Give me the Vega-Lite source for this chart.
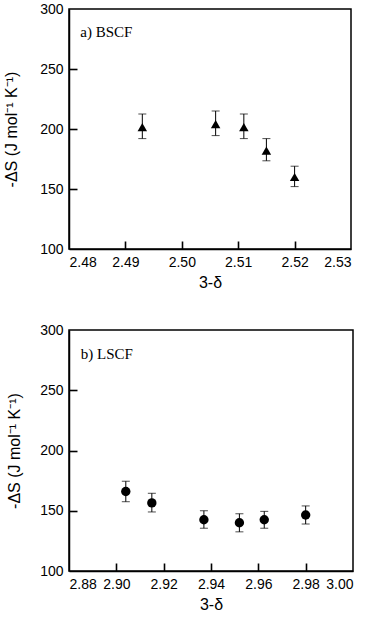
{
  "$schema": "https://vega.github.io/schema/vega-lite/v6.json",
  "padding": {"left": 2, "top": 1, "right": 5, "bottom": 5},
  "spacing": 31,
  "datasets": {
    "bscf": [
      {"x": 2.493, "y": 201.5, "lo": 192, "hi": 212.5},
      {"x": 2.506, "y": 204, "lo": 194.5, "hi": 215},
      {"x": 2.511, "y": 201.5, "lo": 192, "hi": 212.5},
      {"x": 2.515, "y": 182, "lo": 173.5, "hi": 192},
      {"x": 2.52, "y": 160, "lo": 152, "hi": 169}
    ],
    "lscf": [
      {"x": 2.904, "y": 166, "lo": 157.5, "hi": 174.5},
      {"x": 2.915, "y": 156.5, "lo": 149, "hi": 164.5},
      {"x": 2.937, "y": 142.5, "lo": 135.5, "hi": 150},
      {"x": 2.952, "y": 140, "lo": 132.5, "hi": 147.5},
      {"x": 2.9625, "y": 142.5, "lo": 135.5, "hi": 149.5},
      {"x": 2.98, "y": 146.5, "lo": 139, "hi": 154}
    ],
    "labA": [{"x": 2.482, "y": 281, "t": "a) BSCF"}],
    "labB": [{"x": 2.885, "y": 280, "t": "b) LSCF"}]
  },
  "config": {
    "view": {"stroke": "black", "strokeWidth": 1.5},
    "axis": {
      "grid": false,
      "domainColor": "black",
      "domainWidth": 1.5,
      "tickColor": "black",
      "tickWidth": 1.6,
      "labelColor": "black",
      "titleColor": "black",
      "labelFont": "Liberation Sans",
      "titleFont": "Liberation Sans",
      "labelFontSize": 14,
      "titleFontSize": 16,
      "titleFontWeight": "normal"
    },
    "axisX": {"labelPadding": 6, "titlePadding": 5},
    "axisY": {"labelPadding": 6, "titlePadding": 20}
  },
  "vconcat": [
    {
      "width": 282,
      "height": 240,
      "resolve": {"axis": {"x": "independent", "y": "independent"}},
      "layer": [
        {
          "data": {"name": "bscf"},
          "mark": {"type": "errorbar", "ticks": {"size": 8, "color": "black", "strokeWidth": 1.8}, "color": "black", "strokeWidth": 1.8},
          "encoding": {
            "x": {"field": "x", "type": "quantitative", "scale": {"domain": [2.48, 2.53], "nice": false, "zero": false},
                  "axis": {"orient": "bottom", "ticks": false, "values": [2.48, 2.49, 2.5, 2.51, 2.52, 2.53], "format": ".2f", "title": "3-δ"}},
            "y": {"field": "lo", "type": "quantitative", "scale": {"domain": [100, 300], "nice": false, "zero": false},
                  "axis": {"orient": "left", "ticks": false, "values": [100, 150, 200, 250, 300], "title": "-ΔS (J mol⁻¹ K⁻¹)"}},
            "y2": {"field": "hi"}
          }
        },
        {
          "data": {"name": "bscf"},
          "mark": {"type": "point", "shape": "triangle-up", "filled": true, "color": "black", "opacity": 1, "size": 90},
          "encoding": {
            "x": {"field": "x", "type": "quantitative",
                  "axis": {"orient": "top", "offset": -240, "labels": false, "domain": false, "title": null, "ticks": true, "tickSize": 8, "zindex": 2, "values": [2.49, 2.5, 2.51, 2.52]}},
            "y": {"field": "y", "type": "quantitative",
                  "axis": {"orient": "right", "offset": -282, "labels": false, "domain": false, "title": null, "ticks": true, "tickSize": 8, "zindex": 2, "values": [150, 200, 250]}}
          }
        },
        {
          "data": {"name": "labA"},
          "mark": {"type": "text", "align": "left", "baseline": "middle", "font": "Liberation Serif", "fontSize": 15, "color": "black"},
          "encoding": {
            "x": {"field": "x", "type": "quantitative", "axis": null},
            "y": {"field": "y", "type": "quantitative", "axis": null},
            "text": {"field": "t"}
          }
        }
      ]
    },
    {
      "width": 284,
      "height": 241,
      "resolve": {"axis": {"x": "independent", "y": "independent"}},
      "layer": [
        {
          "data": {"name": "lscf"},
          "mark": {"type": "errorbar", "ticks": {"size": 8, "color": "black", "strokeWidth": 1.8}, "color": "black", "strokeWidth": 1.8},
          "encoding": {
            "x": {"field": "x", "type": "quantitative", "scale": {"domain": [2.88, 3.0], "nice": false, "zero": false},
                  "axis": {"orient": "bottom", "ticks": false, "values": [2.88, 2.9, 2.92, 2.94, 2.96, 2.98, 3.0], "format": ".2f", "title": "3-δ"}},
            "y": {"field": "lo", "type": "quantitative", "scale": {"domain": [100, 300], "nice": false, "zero": false},
                  "axis": {"orient": "left", "ticks": false, "values": [100, 150, 200, 250, 300], "title": "-ΔS (J mol⁻¹ K⁻¹)", "titlePadding": 17}},
            "y2": {"field": "hi"}
          }
        },
        {
          "data": {"name": "lscf"},
          "mark": {"type": "point", "shape": "circle", "filled": true, "color": "black", "opacity": 1, "size": 88},
          "encoding": {
            "x": {"field": "x", "type": "quantitative",
                  "axis": {"orient": "top", "offset": -241, "labels": false, "domain": false, "title": null, "ticks": true, "tickSize": 8, "zindex": 2, "values": [2.9, 2.92, 2.94, 2.96, 2.98]}},
            "y": {"field": "y", "type": "quantitative",
                  "axis": {"orient": "right", "offset": -284, "labels": false, "domain": false, "title": null, "ticks": true, "tickSize": 8, "zindex": 2, "values": [150, 200, 250]}}
          }
        },
        {
          "data": {"name": "labB"},
          "mark": {"type": "text", "align": "left", "baseline": "middle", "font": "Liberation Serif", "fontSize": 15, "color": "black"},
          "encoding": {
            "x": {"field": "x", "type": "quantitative", "axis": null},
            "y": {"field": "y", "type": "quantitative", "axis": null},
            "text": {"field": "t"}
          }
        }
      ]
    }
  ]
}
